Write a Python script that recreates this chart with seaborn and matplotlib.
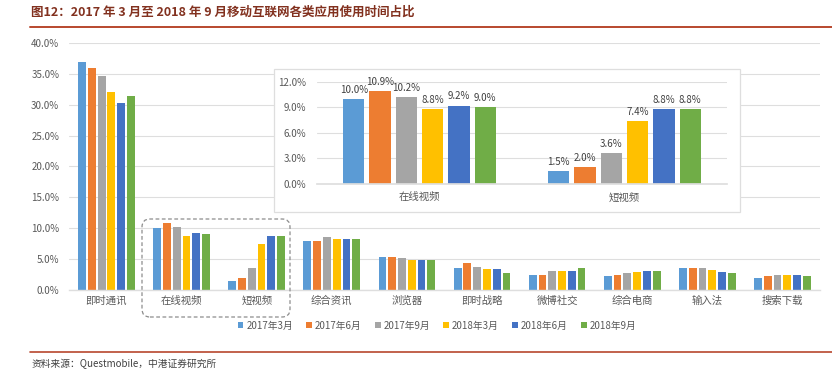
import pandas as pd
import matplotlib
matplotlib.use("Agg")
import matplotlib.pyplot as plt
from matplotlib.patches import FancyBboxPatch, Rectangle
from matplotlib.lines import Line2D
from matplotlib.ticker import FuncFormatter
import seaborn as sns

categories = ['即时通讯', '在线视频', '短视频', '综合资讯', '浏览器',
              '即时战略', '微博社交', '综合电商', '输入法', '搜索下载']
periods = ['2017年3月', '2017年6月', '2017年9月', '2018年3月', '2018年6月', '2018年9月']
v_2017_03 = [36.9, 10.0, 1.5, 8.0, 5.4, 3.6, 2.4, 2.3, 3.6, 1.9]
v_2017_06 = [36.0, 10.9, 2.0, 8.0, 5.3, 4.3, 2.4, 2.4, 3.5, 2.3]
v_2017_09 = [34.6, 10.2, 3.6, 8.5, 5.1, 3.8, 3.0, 2.7, 3.5, 2.4]
v_2018_03 = [32.0, 8.8, 7.4, 8.3, 4.9, 3.4, 3.1, 2.9, 3.2, 2.4]
v_2018_06 = [30.2, 9.2, 8.8, 8.2, 4.9, 3.4, 3.1, 3.0, 2.9, 2.4]
v_2018_09 = [31.4, 9.0, 8.8, 8.2, 4.9, 2.7, 3.5, 3.1, 2.7, 2.3]
inset_categories = ['在线视频', '短视频']
colors = ['#5B9BD5', '#ED7D31', '#A5A5A5', '#FFC000', '#4472C4', '#70AD47']

series = [v_2017_03, v_2017_06, v_2017_09, v_2018_03, v_2018_06, v_2018_09]
rows = []
for p, vals in zip(periods, series):
    for c, v in zip(categories, vals):
        rows.append({'cat': c, 'period': p, 'val': v})
df = pd.DataFrame(rows)
df_inset = df[df['cat'].isin(inset_categories)]

sns.set_theme(style='white')
plt.rcParams['font.family'] = ['Noto Sans CJK SC', 'DejaVu Sans']
plt.rcParams['axes.unicode_minus'] = False

grey_txt = '#595959'
grid_c = '#DEDEDE'

fig = plt.figure(figsize=(8.32, 3.75), dpi=100)

# main chart
ax = fig.add_axes([0.0829, 0.2267, 0.9026, 0.6587])
ax.set_zorder(0)
sns.barplot(data=df, x='cat', y='val', hue='period', order=categories, hue_order=periods,
            palette=colors, saturation=1, width=0.78, gap=0.2, linewidth=0, ax=ax, legend=True)
ax.set_ylim(0, 40)
ax.set_yticks(range(0, 41, 5))
ax.yaxis.set_major_formatter(FuncFormatter(lambda v, _: f'{v:.1f}%'))
ax.grid(axis='y', color=grid_c, linewidth=0.8)
ax.set_axisbelow(True)
for s in ['left', 'right', 'top']:
    ax.spines[s].set_visible(False)
ax.spines['bottom'].set_color(grid_c)
ax.spines['bottom'].set_linewidth(1.0)
ax.tick_params(axis='y', length=0, pad=7, labelsize=7, labelcolor=grey_txt)
ax.tick_params(axis='x', length=0, pad=4, labelsize=7.5, labelcolor=grey_txt)
ax.set_xlabel('')
ax.set_ylabel('')
ax.set_xlim(-0.5, len(categories) - 0.5)

handles, labels = ax.get_legend_handles_labels()
ax.legend(handles, labels, loc='center', bbox_to_anchor=(0.49, -0.145), ncol=6,
          frameon=False, fontsize=7, handlelength=0.6, handleheight=0.6,
          handletextpad=0.3, columnspacing=1.35, labelcolor=grey_txt)

# white box behind inset
box = Rectangle((0.3293, 0.4347), 0.5601, 0.3805, transform=fig.transFigure,
                facecolor='white', edgecolor=grid_c, linewidth=0.9, zorder=1)
fig.patches.append(box)

# dashed rounded frame around the zoomed categories
frame = FancyBboxPatch((1.42, 0.58), 1.48, 0.98, boxstyle='round,pad=0,rounding_size=0.08',
                       transform=fig.dpi_scale_trans, facecolor='none', edgecolor='#8C8C8C',
                       linestyle=(0, (3, 2)), linewidth=0.9, zorder=1.5)
fig.patches.append(frame)

# inset chart
axi = fig.add_axes([0.381, 0.5093, 0.4928, 0.2728])
axi.set_zorder(2)
axi.patch.set_alpha(0)
sns.barplot(data=df_inset, x='cat', y='val', hue='period', order=inset_categories,
            hue_order=periods, palette=colors, saturation=1, width=0.77, gap=0.19,
            linewidth=0, ax=axi, legend=False)
axi.set_ylim(0, 12)
axi.set_yticks([0, 3, 6, 9, 12])
axi.yaxis.set_major_formatter(FuncFormatter(lambda v, _: f'{v:.1f}%'))
axi.grid(axis='y', color=grid_c, linewidth=0.8)
axi.set_axisbelow(True)
for s in ['left', 'right', 'top']:
    axi.spines[s].set_visible(False)
axi.spines['bottom'].set_color(grid_c)
axi.tick_params(axis='y', length=0, pad=8, labelsize=7, labelcolor=grey_txt)
axi.tick_params(axis='x', length=0, pad=6, labelsize=7.5, labelcolor=grey_txt)
axi.set_xlabel('')
axi.set_ylabel('')
for cont in axi.containers:
    axi.bar_label(cont, fmt='%.1f%%', padding=3, fontsize=7, color='#404040', clip_on=False)

# title, rules and source
fig.text(0.037, 0.968, '图12：2017 年 3 月至 2018 年 9 月移动互联网各类应用使用时间占比',
         fontsize=9, fontweight='bold', color='#82311F', va='center', ha='left')
fig.add_artist(Line2D([0.036, 1.0], [0.928, 0.928], transform=fig.transFigure,
                      color='#B8472E', linewidth=1.4))
fig.add_artist(Line2D([0.036, 1.0], [0.062, 0.062], transform=fig.transFigure,
                      color='#B8472E', linewidth=1.2))
fig.text(0.038, 0.029, '资料来源：Questmobile，中港证券研究所', fontsize=7, style='italic',
         color='#404040', va='center', ha='left')

fig.savefig('out.png', dpi=100)
